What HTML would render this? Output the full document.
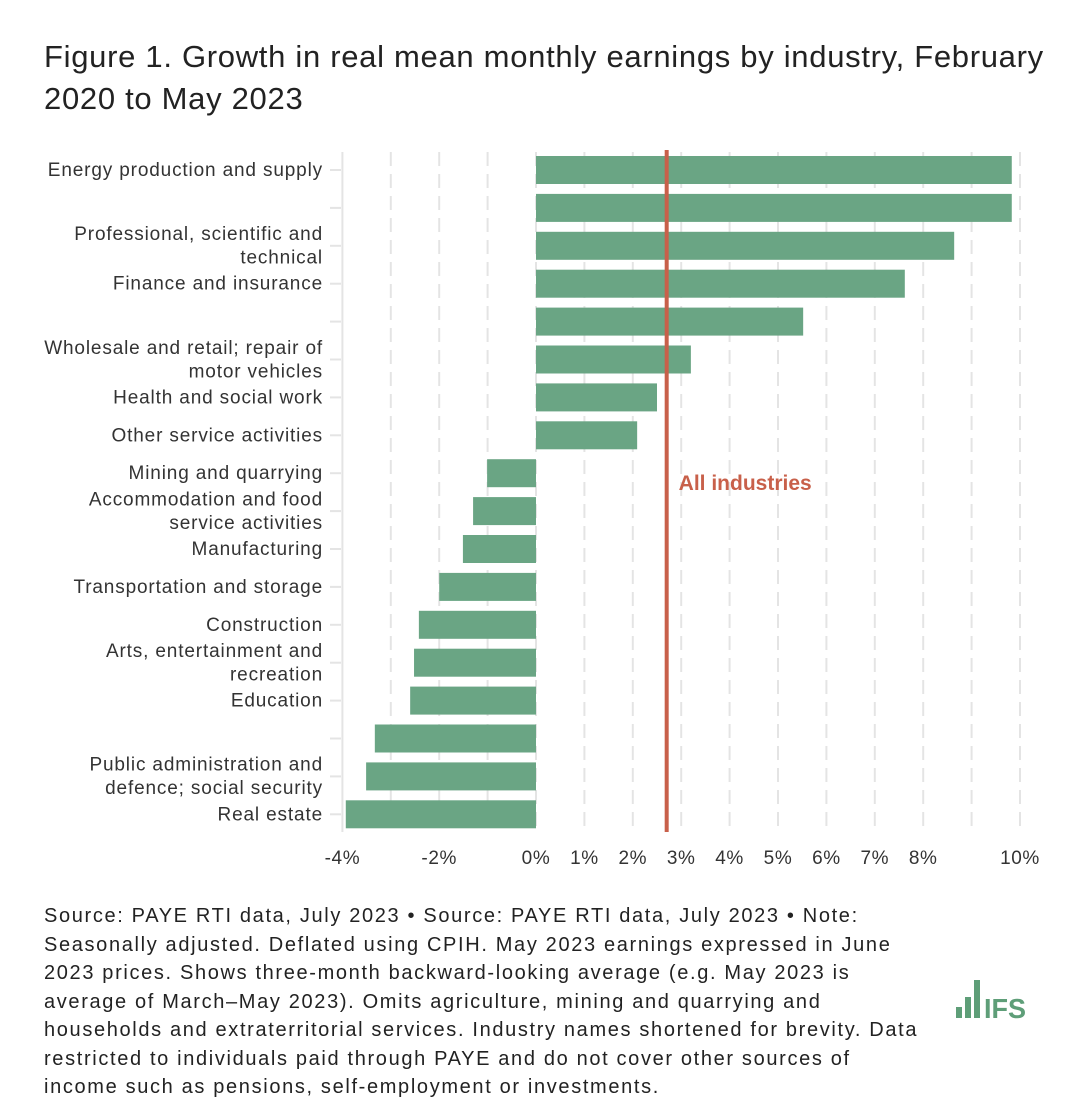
<!DOCTYPE html>
<html><head><meta charset="utf-8"><style>
body{margin:0;background:#fff;font-family:"Liberation Sans",sans-serif;}
#wrap{position:relative;width:1080px;height:1120px;overflow:hidden;}
h1{position:absolute;left:44px;top:36px;margin:0;font-size:31px;font-weight:normal;line-height:42px;color:#222;width:1030px;letter-spacing:0.7px}
#note{position:absolute;left:44px;top:902px;width:900px;font-size:20px;line-height:28.5px;color:#222;letter-spacing:1.65px;white-space:nowrap}
</style></head><body><div id="wrap">
<h1>Figure 1. Growth in real mean monthly earnings by industry, February 2020 to May 2023</h1>
<svg id="chart" width="1080" height="880" style="position:absolute;left:0;top:0"></svg>
<div id="note">Source: PAYE RTI data, July 2023 • Source: PAYE RTI data, July 2023 • Note:<br>Seasonally adjusted. Deflated using CPIH. May 2023 earnings expressed in June<br>2023 prices. Shows three-month backward-looking average (e.g. May 2023 is<br>average of March–May 2023). Omits agriculture, mining and quarrying and<br>households and extraterritorial services. Industry names shortened for brevity. Data<br>restricted to individuals paid through PAYE and do not cover other sources of<br>income such as pensions, self-employment or investments.</div>
<svg width="90" height="50" style="position:absolute;left:950px;top:975px">
<rect x="6" y="32" width="6" height="11" fill="#5e9e78"/><rect x="15" y="22" width="6" height="21" fill="#5e9e78"/><rect x="24" y="5" width="6" height="38" fill="#5e9e78"/>
<text x="34" y="43" font-family="Liberation Sans" font-weight="bold" font-size="28" fill="#5e9e78" textLength="42" lengthAdjust="spacingAndGlyphs">IFS</text></svg>
</div>
<script>
const values=[9.83,9.83,8.64,7.62,5.52,3.2,2.5,2.09,-1.01,-1.3,-1.51,-2.0,-2.42,-2.52,-2.6,-3.33,-3.51,-3.93];
const rowLabels=[["Energy production and supply"],[],["Professional, scientific and","technical"],["Finance and insurance"],[],["Wholesale and retail; repair of","motor vehicles"],["Health and social work"],["Other service activities"],["Mining and quarrying"],["Accommodation and food","service activities"],["Manufacturing"],["Transportation and storage"],["Construction"],["Arts, entertainment and","recreation"],["Education"],[],["Public administration and","defence; social security"],["Real estate"]];
const tickVals=[-4,-2,0,1,2,3,4,5,6,7,8,10];
const allIndustries=2.7;
const svg=document.getElementById('chart');
const NS='http://www.w3.org/2000/svg';
const x=v=>536+v*48.4;
const rowY=i=>170+i*37.9;
function mk(t,a){const e=document.createElementNS(NS,t);for(const k in a)e.setAttribute(k,a[k]);svg.appendChild(e);return e;}
for(let g=-4;g<=10;g++){const l=mk('line',{x1:x(g),x2:x(g),y1:152,y2:832,stroke:'#e4e4e4','stroke-width':2,'stroke-dasharray':g===-4?'':'14,8'});

}
values.forEach((v,i)=>{
const cy=rowY(i);
const t=mk('line',{x1:330,x2:341,y1:cy,y2:cy,stroke:'#e4e4e4','stroke-width':2});


const r=mk('rect',{x:Math.min(x(0),x(v)),y:cy-14,width:Math.abs(x(v)-x(0)),height:28,fill:'#6aa584'});


const lab=rowLabels[i];
lab.forEach((s,j)=>{const tx=mk('text',{x:323,y:cy+6+(j-(lab.length-1)/2)*23.5,'text-anchor':'end','font-size':19,'letter-spacing':'0.85',fill:'#333'});tx.textContent=s;

});
});
tickVals.forEach(v=>{const t=mk('text',{x:x(v),y:864,'text-anchor':'middle','font-size':19,'letter-spacing':'0.6',fill:'#333'});t.textContent=v+'%';

});
const rl=mk('line',{x1:x(allIndustries),x2:x(allIndustries),y1:150,y2:832,stroke:'#c8604a','stroke-width':4});


const at=mk('text',{x:x(allIndustries)+12,y:490,'font-size':21,'font-weight':'bold',fill:'#c8604a'});at.textContent='All industries';


</script></body></html>
